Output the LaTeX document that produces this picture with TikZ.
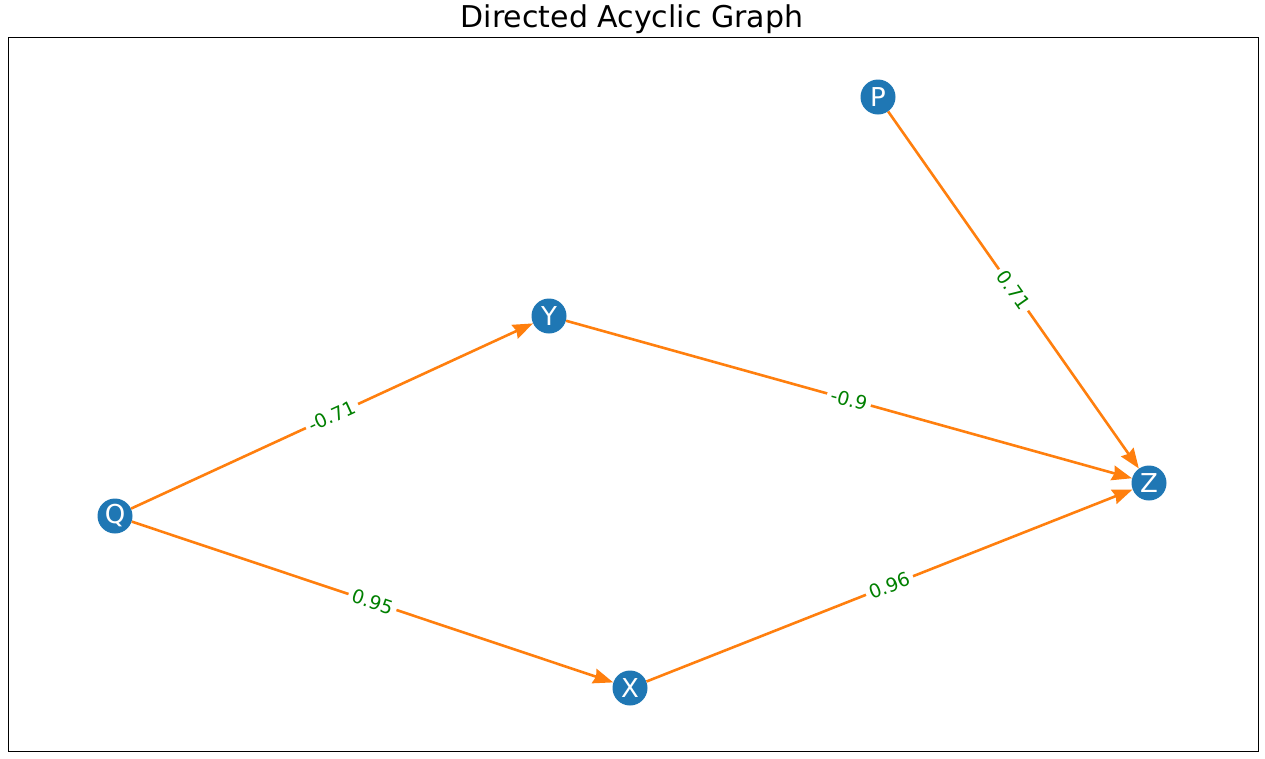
\documentclass[tikz,border=0pt]{standalone}
\usepackage{fontspec}
\setmainfont{DejaVu Sans}
\usetikzlibrary{arrows.meta}
\definecolor{nodeblue}{HTML}{1F77B4}
\definecolor{edgeorange}{HTML}{FF7F0E}
\definecolor{labelgreen}{HTML}{008000}
\begin{document}
\begin{tikzpicture}[x=1pt,y=-1pt]
    \tikzset{
      vertex/.style={circle,fill=nodeblue,minimum size=35pt,inner sep=0pt,
        text=white,font={\fontsize{26pt}{26pt}\selectfont}},
      dagedge/.style={draw=edgeorange,line width=2.6pt,
        -{Stealth[length=20pt,width=15pt,inset=2pt]}},
      weight/.style={fill=white,text=labelgreen,inner sep=4pt,sloped,
        font={\fontsize{19pt}{19pt}\selectfont}}
    }
    \useasboundingbox (0,0) rectangle (1265,758);
    \draw[line width=0.8pt] (8,37) rectangle (1258,751);
    \node (title) at (632,19) {\fontsize{30pt}{30pt}\selectfont Directed Acyclic Graph};
    % vertices
    \node[vertex] (P) at (878,97) {P};
    \node[vertex] (Y) at (549,316) {Y};
    \node[vertex] (Q) at (115,516) {Q};
    \node[vertex] (X) at (630,688) {X};
    \node[vertex] (Z) at (1149,483) {Z};
    % weighted edges
    \draw[dagedge] (Q) -- node[weight] {-0.71} (Y);
    \draw[dagedge] (Q) -- node[weight] {0.95} (X);
    \draw[dagedge] (Y) -- node[weight] {-0.9} (Z);
    \draw[dagedge] (X) -- node[weight] {0.96} (Z);
    \draw[dagedge] (P) -- node[weight] {0.71} (Z);
\end{tikzpicture}
\end{document}
